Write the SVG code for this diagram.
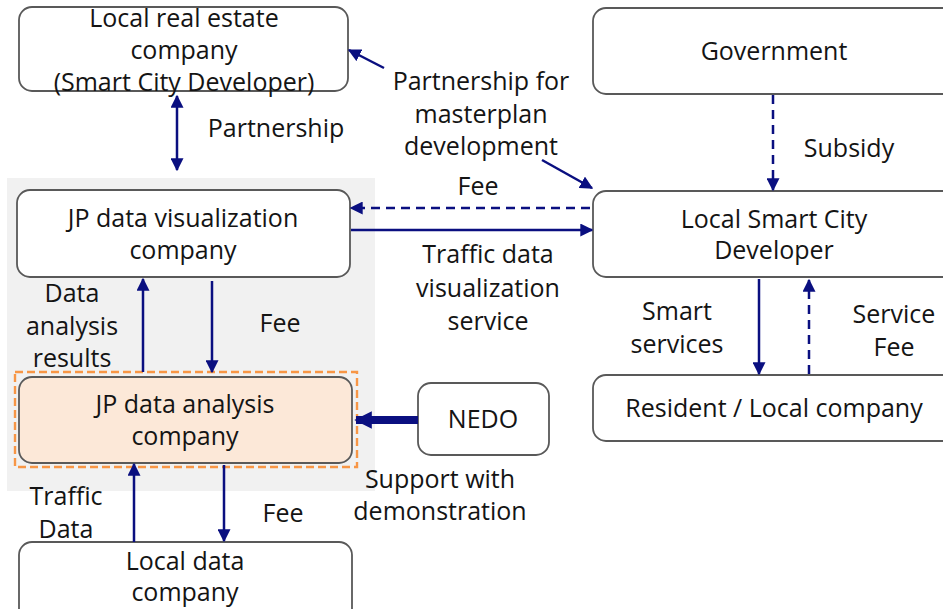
<svg xmlns="http://www.w3.org/2000/svg" width="943" height="609" viewBox="0 0 943 609">
  <defs>
    <marker id="ah" viewBox="0 0 10 10" refX="9" refY="5" markerWidth="5.2" markerHeight="5.2" orient="auto-start-reverse" markerUnits="strokeWidth">
      <path d="M0,0 L10,5 L0,10 z" fill="#0a0f80"/>
    </marker>
    <marker id="ahThick" viewBox="0 0 10 10" refX="9" refY="5" markerWidth="2.2" markerHeight="2.6" orient="auto" markerUnits="strokeWidth">
      <path d="M0,0 L10,5 L0,10 z" fill="#0a0f80"/>
    </marker>
  </defs>
  <style>
    .box { fill: #ffffff; stroke: #595959; stroke-width: 1.8; }
    .t { font-family: "Open Sans", "Noto Sans", sans-serif; font-size: 25px; fill: #141414; text-anchor: middle; }
    .c { stroke: #0a0f80; stroke-width: 2.5; fill: none; marker-end: url(#ah); }
    .d { stroke-dasharray: 9 6; }
  </style>

  <!-- shaded area around the JP companies -->
  <rect x="7" y="178" width="368" height="313" fill="#f1f1f1"/>

  <g id="real-estate">
    <rect class="box" x="19" y="7" width="329" height="84" rx="13"/>
    <text class="t" x="184" y="27">Local real estate</text>
    <text class="t" x="184" y="59">company</text>
    <text class="t" x="184" y="91">(Smart City Developer)</text>
  </g>

  <g id="jp-visualization">
    <rect class="box" x="17" y="190" width="333" height="87" rx="13"/>
    <text class="t" x="183" y="227">JP data visualization</text>
    <text class="t" x="183" y="259">company</text>
  </g>

  <g id="jp-analysis">
    <rect x="15" y="372" width="342" height="95" fill="none" stroke="#f79646" stroke-width="2.4" stroke-dasharray="8 4"/>
    <rect x="19" y="377" width="333" height="86" rx="13" fill="#fce8d8" stroke="#595959" stroke-width="1.8"/>
    <text class="t" x="185" y="413">JP data analysis</text>
    <text class="t" x="185" y="445">company</text>
  </g>

  <g id="local-data">
    <rect class="box" x="19" y="542" width="333" height="86" rx="13"/>
    <text class="t" x="185" y="570">Local data</text>
    <text class="t" x="185" y="601">company</text>
  </g>

  <g id="nedo">
    <rect class="box" x="418" y="383" width="131" height="72" rx="13"/>
    <text class="t" x="483" y="428">NEDO</text>
  </g>

  <g id="government">
    <rect class="box" x="593" y="8" width="365" height="86" rx="13"/>
    <text class="t" x="774" y="60">Government</text>
  </g>

  <g id="smart-city-developer">
    <rect class="box" x="593" y="191" width="365" height="86" rx="13"/>
    <text class="t" x="774" y="228">Local Smart City</text>
    <text class="t" x="774" y="259">Developer</text>
  </g>

  <g id="resident">
    <rect class="box" x="593" y="375" width="365" height="66" rx="13"/>
    <text class="t" x="774" y="417">Resident / Local company</text>
  </g>

  <g id="connectors">
    <!-- partnership (both ways) -->
    <line class="c" x1="177" y1="96" x2="177" y2="170" style="marker-start:url(#ah)"/>
    <!-- masterplan partnership -->
    <line class="c" x1="384" y1="68" x2="349" y2="50"/>
    <line class="c" x1="542" y1="160" x2="592" y2="188"/>
    <!-- fee / visualization service -->
    <line class="c d" x1="590" y1="208" x2="351" y2="208"/>
    <line class="c" x1="351" y1="230" x2="592" y2="230"/>
    <!-- analysis results / fee -->
    <line class="c" x1="143" y1="372" x2="143" y2="279"/>
    <line class="c" x1="212" y1="281" x2="212" y2="372"/>
    <!-- NEDO support -->
    <line x1="418" y1="420" x2="356" y2="420" stroke="#0a0f80" stroke-width="8" marker-end="url(#ahThick)"/>
    <!-- traffic data / fee -->
    <line class="c" x1="134" y1="542" x2="134" y2="464"/>
    <line class="c" x1="224" y1="465" x2="224" y2="541"/>
    <!-- subsidy -->
    <line class="c d" x1="773" y1="95" x2="773" y2="190"/>
    <!-- smart services / service fee -->
    <line class="c" x1="759" y1="279" x2="759" y2="374"/>
    <line class="c d" x1="809" y1="374" x2="809" y2="280"/>
  </g>

  <g id="labels">
    <text class="t" x="276" y="137">Partnership</text>
    <text class="t" x="481" y="90">Partnership for</text>
    <text class="t" x="481" y="123">masterplan</text>
    <text class="t" x="481" y="155">development</text>
    <text class="t" x="478" y="195">Fee</text>
    <text class="t" x="488" y="263">Traffic data</text>
    <text class="t" x="488" y="297">visualization</text>
    <text class="t" x="488" y="330">service</text>
    <text class="t" x="72" y="302">Data</text>
    <text class="t" x="72" y="335">analysis</text>
    <text class="t" x="72" y="367">results</text>
    <text class="t" x="280" y="332">Fee</text>
    <text class="t" x="440" y="488">Support with</text>
    <text class="t" x="440" y="520">demonstration</text>
    <text class="t" x="66" y="505">Traffic</text>
    <text class="t" x="66" y="538">Data</text>
    <text class="t" x="283" y="522">Fee</text>
    <text class="t" x="849" y="157">Subsidy</text>
    <text class="t" x="677" y="320">Smart</text>
    <text class="t" x="677" y="353">services</text>
    <text class="t" x="894" y="323">Service</text>
    <text class="t" x="894" y="356">Fee</text>
  </g>
</svg>
